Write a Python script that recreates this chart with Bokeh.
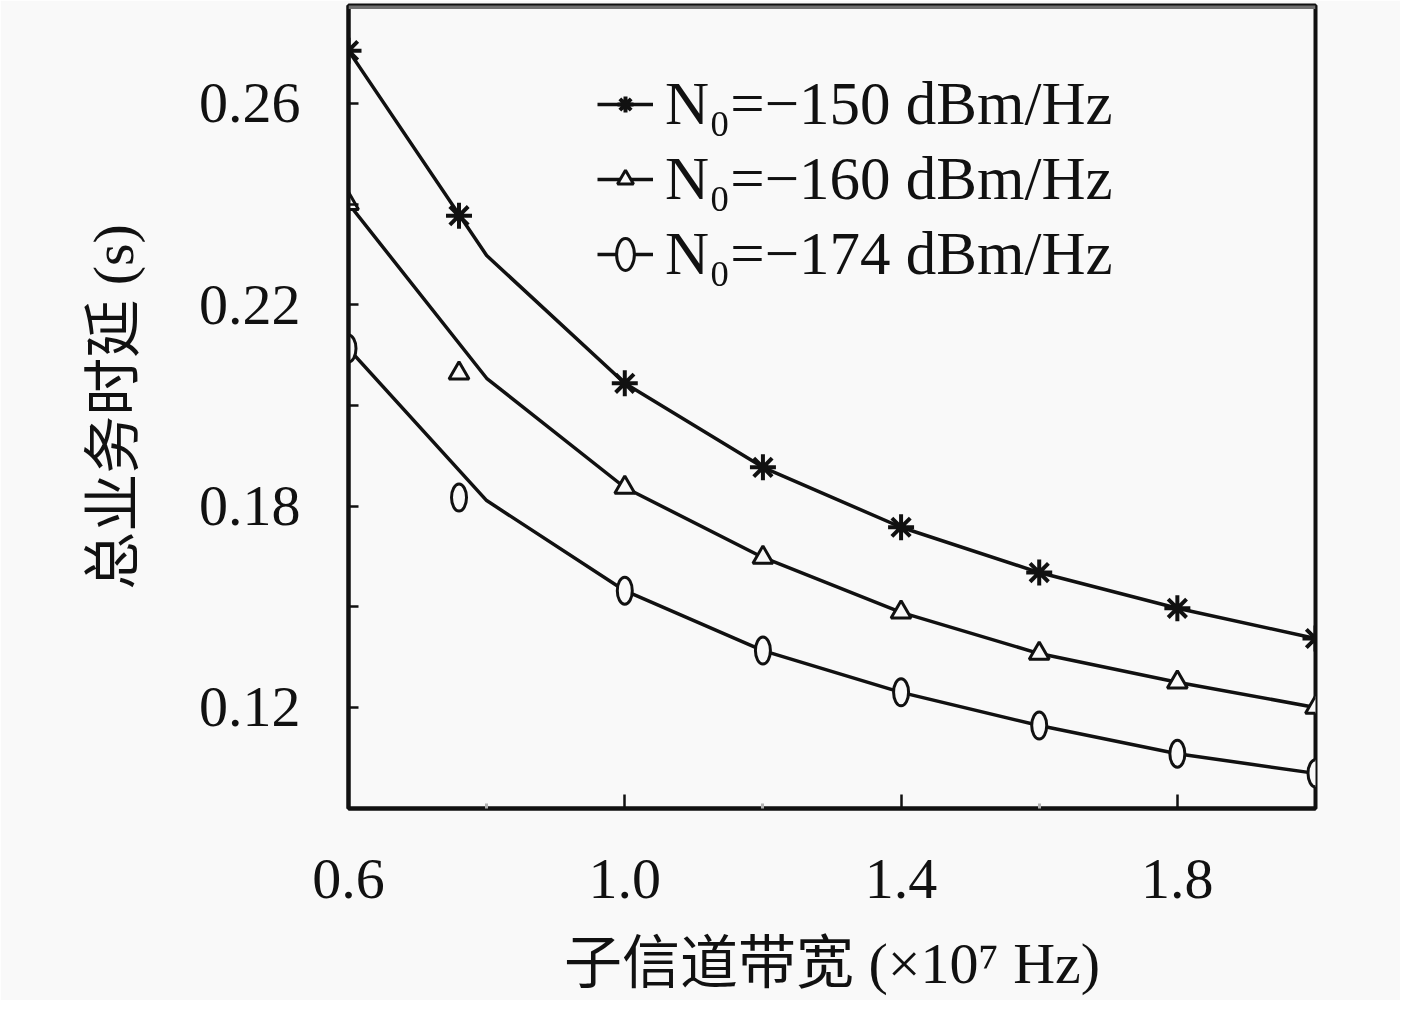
from bokeh.plotting import figure
from bokeh.models import (FixedTicker, Range1d, Legend, LegendItem, Span,
                          NumeralTickFormatter)
from bokeh.embed import file_html
from bokeh.resources import INLINE

# ---- data ----
x_line = [0.6, 0.8, 1.0, 1.2, 1.4, 1.6, 1.8, 2.0]
x_mark = [0.6, 0.76, 1.0, 1.2, 1.4, 1.6, 1.8, 2.0]

line_150 = [0.2705, 0.2298, 0.2044, 0.1877, 0.1758, 0.1668, 0.1597, 0.1537]
mark_150 = [0.2705, 0.2377, 0.2044, 0.1877, 0.1758, 0.1668, 0.1597, 0.1537]
line_160 = [0.2401, 0.2054, 0.1837, 0.1698, 0.1589, 0.1507, 0.1450, 0.1400]
mark_160 = [0.2401, 0.2064, 0.1837, 0.1698, 0.1589, 0.1507, 0.1450, 0.1400]
line_174 = [0.2113, 0.1811, 0.1632, 0.1513, 0.1430, 0.1364, 0.1308, 0.1269]
mark_174 = [0.2113, 0.1817, 0.1632, 0.1513, 0.1430, 0.1364, 0.1308, 0.1269]

series_labels = ["N₀=−150 dBm/Hz", "N₀=−160 dBm/Hz", "N₀=−174 dBm/Hz"]

x_ticks = [0.6, 1.0, 1.4, 1.8]
x_minor = [0.8, 1.2, 1.6]
y_ticks = [0.14, 0.18, 0.22, 0.26]
y_tick_labels = ["0.12", "0.18", "0.22", "0.26"]
y_minor = [0.16, 0.20, 0.24]

x_title = "子信道带宽 (×10⁷ Hz)"
y_title = "总业务时延 (s)"

BG = "#f9f9f9"
INK = "#111111"
SERIF = "Liberation Serif"
MIXED = "Liberation Serif, Noto Sans CJK SC"

Y0, Y1 = 0.11992, 0.27947

p = figure(width=1400, height=1000,
           x_range=Range1d(0.6, 2.0), y_range=Range1d(Y0, Y1),
           output_backend="svg", toolbar_location=None,
           min_border_left=348, min_border_right=85,
           min_border_top=5, min_border_bottom=192,
           background_fill_color=BG, border_fill_color=BG)

p.xgrid.visible = False
p.ygrid.visible = False
p.outline_line_color = INK
p.outline_line_width = 4

# grey top edge of the frame
p.add_layout(Span(location=Y1, dimension="width", line_color="#707070", line_width=7,
                  level="overlay"))

# x axis
p.xaxis.ticker = FixedTicker(ticks=x_ticks, minor_ticks=x_minor)
p.xaxis.formatter = NumeralTickFormatter(format="0.0")
p.xaxis.axis_line_width = 4
p.xaxis.axis_line_color = INK
p.xaxis.major_tick_in = 14
p.xaxis.major_tick_out = 0
p.xaxis.major_tick_line_width = 2.5
p.xaxis.major_tick_line_color = INK
p.xaxis.minor_tick_in = 5
p.xaxis.minor_tick_out = 0
p.xaxis.minor_tick_line_width = 3
p.xaxis.minor_tick_line_color = "#b0b0b0"
p.xaxis.major_label_text_font = SERIF
p.xaxis.major_label_text_font_size = "58px"
p.xaxis.major_label_text_color = INK
p.xaxis.major_label_standoff = 51
p.xaxis.axis_label = x_title
p.xaxis.axis_label_text_font = MIXED
p.xaxis.axis_label_text_font_size = "58px"
p.xaxis.axis_label_text_font_style = "normal"
p.xaxis.axis_label_text_color = INK
p.xaxis.axis_label_standoff = 30

# y axis
p.yaxis.ticker = FixedTicker(ticks=y_ticks, minor_ticks=y_minor)
p.yaxis.formatter = NumeralTickFormatter(format="0.00")
p.yaxis.major_label_overrides = dict(zip(y_ticks, y_tick_labels))
p.yaxis.axis_line_width = 4
p.yaxis.axis_line_color = INK
p.yaxis.major_tick_in = 10
p.yaxis.major_tick_out = 0
p.yaxis.major_tick_line_width = 2.5
p.yaxis.major_tick_line_color = INK
p.yaxis.minor_tick_in = 10
p.yaxis.minor_tick_out = 0
p.yaxis.minor_tick_line_width = 2.5
p.yaxis.minor_tick_line_color = INK
p.yaxis.major_label_text_font = SERIF
p.yaxis.major_label_text_font_size = "58px"
p.yaxis.major_label_text_color = INK
p.yaxis.major_label_standoff = 48
p.yaxis.axis_label = y_title
p.yaxis.axis_label_text_font = MIXED
p.yaxis.axis_label_text_font_size = "58px"
p.yaxis.axis_label_text_font_style = "normal"
p.yaxis.axis_label_text_color = INK
p.yaxis.axis_label_standoff = 50

# series
l1 = p.line(x_line, line_150, line_color=INK, line_width=3.5)
m1 = p.scatter(x_mark, mark_150, marker="asterisk", size=26, line_color=INK, line_width=4)
l2 = p.line(x_line, line_160, line_color=INK, line_width=3.5)
m2 = p.scatter(x_mark, mark_160, marker="triangle", size=20, fill_color=BG,
               line_color=INK, line_width=3)
l3 = p.line(x_line, line_174, line_color=INK, line_width=3.5)
m3 = p.ellipse(x_mark, mark_174, width=15, height=27, width_units="screen",
               height_units="screen", fill_color=BG, line_color=INK, line_width=3)

items = [LegendItem(label=series_labels[0], renderers=[l1, m1]),
         LegendItem(label=series_labels[1], renderers=[l2, m2]),
         LegendItem(label=series_labels[2], renderers=[l3, m3])]
legend = Legend(items=items, location=(249, 519), glyph_width=56, glyph_height=40,
                label_standoff=12, spacing=5, padding=0, margin=0,
                border_line_color=None, background_fill_alpha=0,
                label_text_font=SERIF, label_text_font_size="61px",
                label_text_color=INK)
p.add_layout(legend)

open("out.html", "w", encoding="utf-8").write(file_html(p, INLINE, title="chart"))
